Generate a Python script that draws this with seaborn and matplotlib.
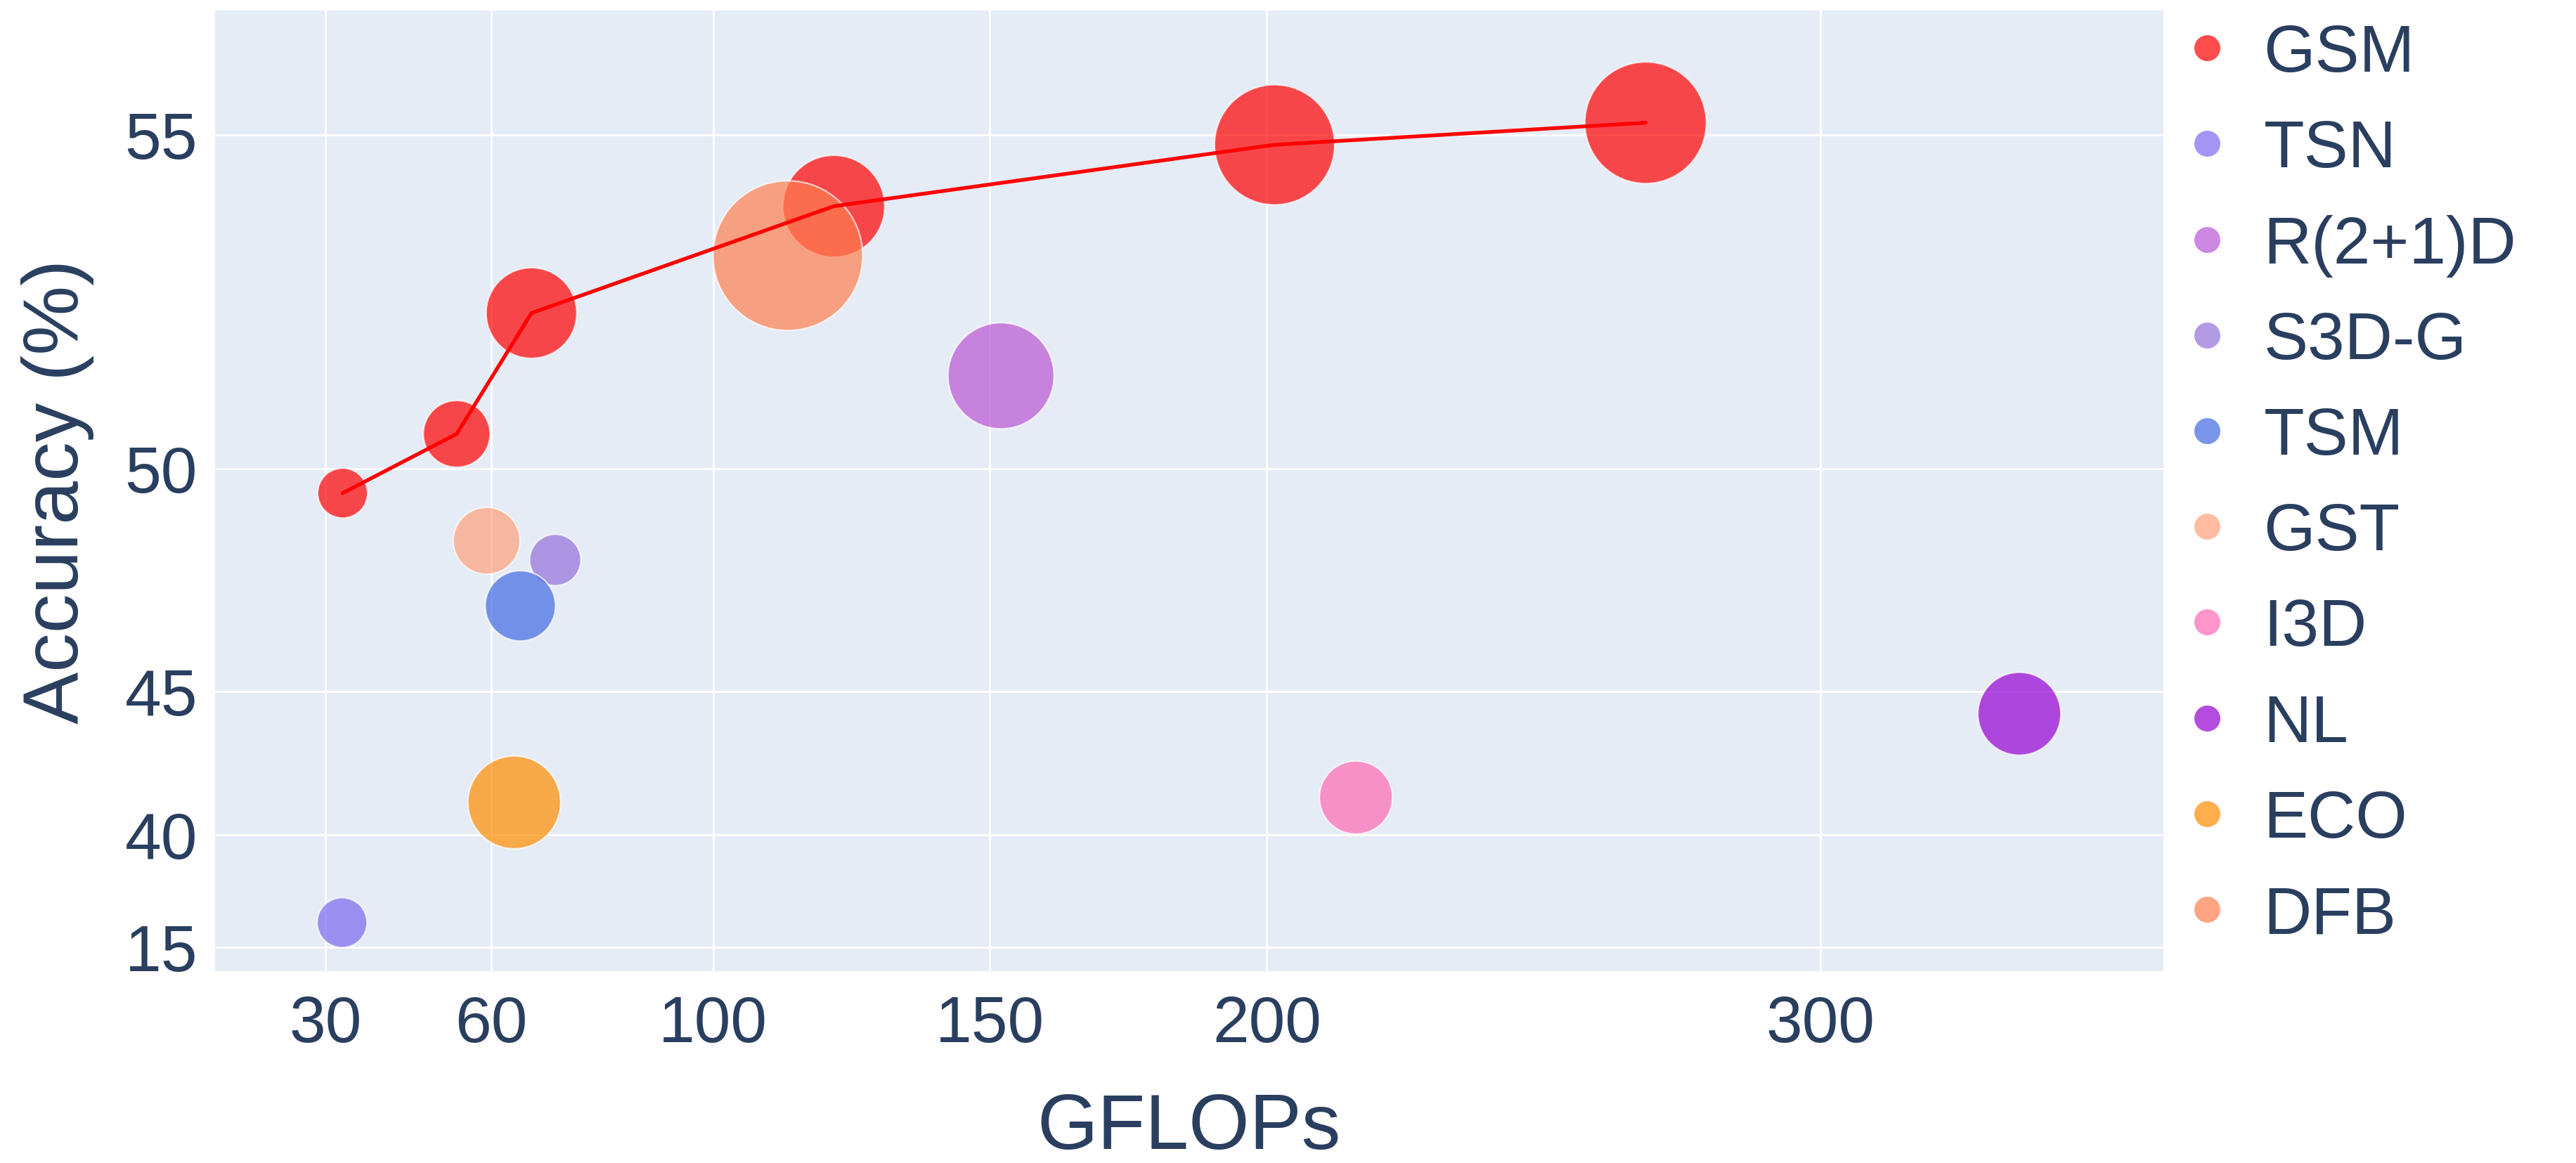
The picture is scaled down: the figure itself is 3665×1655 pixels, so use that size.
import numpy as np
import pandas as pd
import seaborn as sns
import matplotlib
matplotlib.use("Agg")
import matplotlib.pyplot as plt
from matplotlib.lines import Line2D

# --- data ---
models = ['GSM', 'GSM', 'GSM', 'GSM', 'GSM', 'GSM',
          'TSN', 'R(2+1)D', 'S3D-G', 'TSM', 'GST', 'I3D', 'NL', 'ECO', 'DFB']
gflops = [33.1, 53.7, 67.2, 121.8, 201.4, 268.4,
          33.0, 152.0, 71.5, 65.2, 59.1, 216.1, 335.9, 64.1, 113.5]
accuracy = [49.45, 50.52, 52.33, 53.93, 54.85, 55.18,
            20.47, 51.39, 47.95, 46.92, 48.38, 41.30, 44.22, 41.13, 53.19]
bubble = [7.1, 9.5, 12.9, 14.5, 17.1, 17.3,
          7.1, 15.1, 7.3, 10.0, 9.5, 10.4, 11.8, 13.2, 21.3]

legend_order = ['GSM', 'TSN', 'R(2+1)D', 'S3D-G', 'TSM', 'GST', 'I3D', 'NL', 'ECO', 'DFB']
palette = {'GSM': 'red', 'TSN': 'mediumslateblue', 'R(2+1)D': 'mediumorchid',
           'S3D-G': 'mediumpurple', 'TSM': 'royalblue', 'GST': 'lightsalmon',
           'I3D': 'hotpink', 'NL': 'darkviolet', 'ECO': 'darkorange', 'DFB': 'coral'}

x_ticks = [30, 60, 100, 150, 200, 300]
y_ticks = [15, 40, 45, 50, 55]
# the y axis is stretched unevenly between its tick values
y_stretch = [34, 194, 398, 715, 1190]

df = pd.DataFrame({'model': models, 'GFLOPs': gflops, 'acc': accuracy, 'bubble': bubble})

TEXT = '#2a3f5f'
BG = '#E5ECF6'

sns.set_theme(style='darkgrid', rc={'axes.facecolor': BG, 'grid.color': 'white',
                                    'grid.linewidth': 1.0})
plt.rcParams['font.family'] = ['Liberation Sans', 'DejaVu Sans']

k = np.array(y_ticks, float)
p = np.array(y_stretch, float)
lo = (p[1] - p[0]) / (k[1] - k[0])
hi = (p[-1] - p[-2]) / (k[-1] - k[-2])
kk = np.concatenate([[k[0] - 1000], k, [k[-1] + 1000]])
pp = np.concatenate([[p[0] - 1000 * lo], p, [p[-1] + 1000 * hi]])


def fwd(v):
    return np.interp(v, kk, pp)


def inv(t):
    return np.interp(t, pp, kk)


fig, ax = plt.subplots(figsize=(18.325, 8.28), dpi=200)
fig.subplots_adjust(left=0.0835, right=0.8398, bottom=0.1649, top=0.9903)
ax.set_yscale('function', functions=(fwd, inv))

sizes = (df['bubble'] * 3.6) ** 2
sns.scatterplot(data=df, x='GFLOPs', y='acc', hue='model', palette=palette,
                s=sizes, alpha=0.7, edgecolor='white', linewidth=0.8,
                legend=False, ax=ax, zorder=3)
gsm = df[df['model'] == 'GSM']
sns.lineplot(data=gsm, x='GFLOPs', y='acc', color='red', linewidth=1.9,
             estimator=None, ax=ax, zorder=4)

ax.set_xlim(10.07, 361.9)
ax.set_ylim(9.69, 56.86)
ax.set_xticks(x_ticks)
ax.set_yticks(y_ticks)
ax.set_xticklabels([str(v) for v in x_ticks])
ax.set_yticklabels([str(v) for v in y_ticks])
ax.tick_params(axis='both', length=0, labelsize=33.5, labelcolor=TEXT)
ax.tick_params(axis='x', pad=12)
ax.tick_params(axis='y', pad=9)
for s in ax.spines.values():
    s.set_visible(False)

ax.set_xlabel('GFLOPs', fontsize=40, color=TEXT)
ax.set_ylabel('Accuracy (%)', fontsize=40, color=TEXT)
ax.xaxis.set_label_coords(0.5, -0.125)
ax.yaxis.set_label_coords(-0.062, 0.5)

handles = [Line2D([], [], marker='o', linestyle='', markersize=13.3,
                  markerfacecolor=palette[m], markeredgecolor='none', alpha=0.7)
           for m in legend_order]
fig.legend(handles, legend_order, loc='upper left', bbox_to_anchor=(0.8465, 0.980),
           frameon=False, fontsize=34, labelcolor=TEXT, handlelength=0.8,
           handletextpad=0.45, labelspacing=0.50, borderpad=0, borderaxespad=0)

fig.savefig('out.png', dpi=200, facecolor='white')
